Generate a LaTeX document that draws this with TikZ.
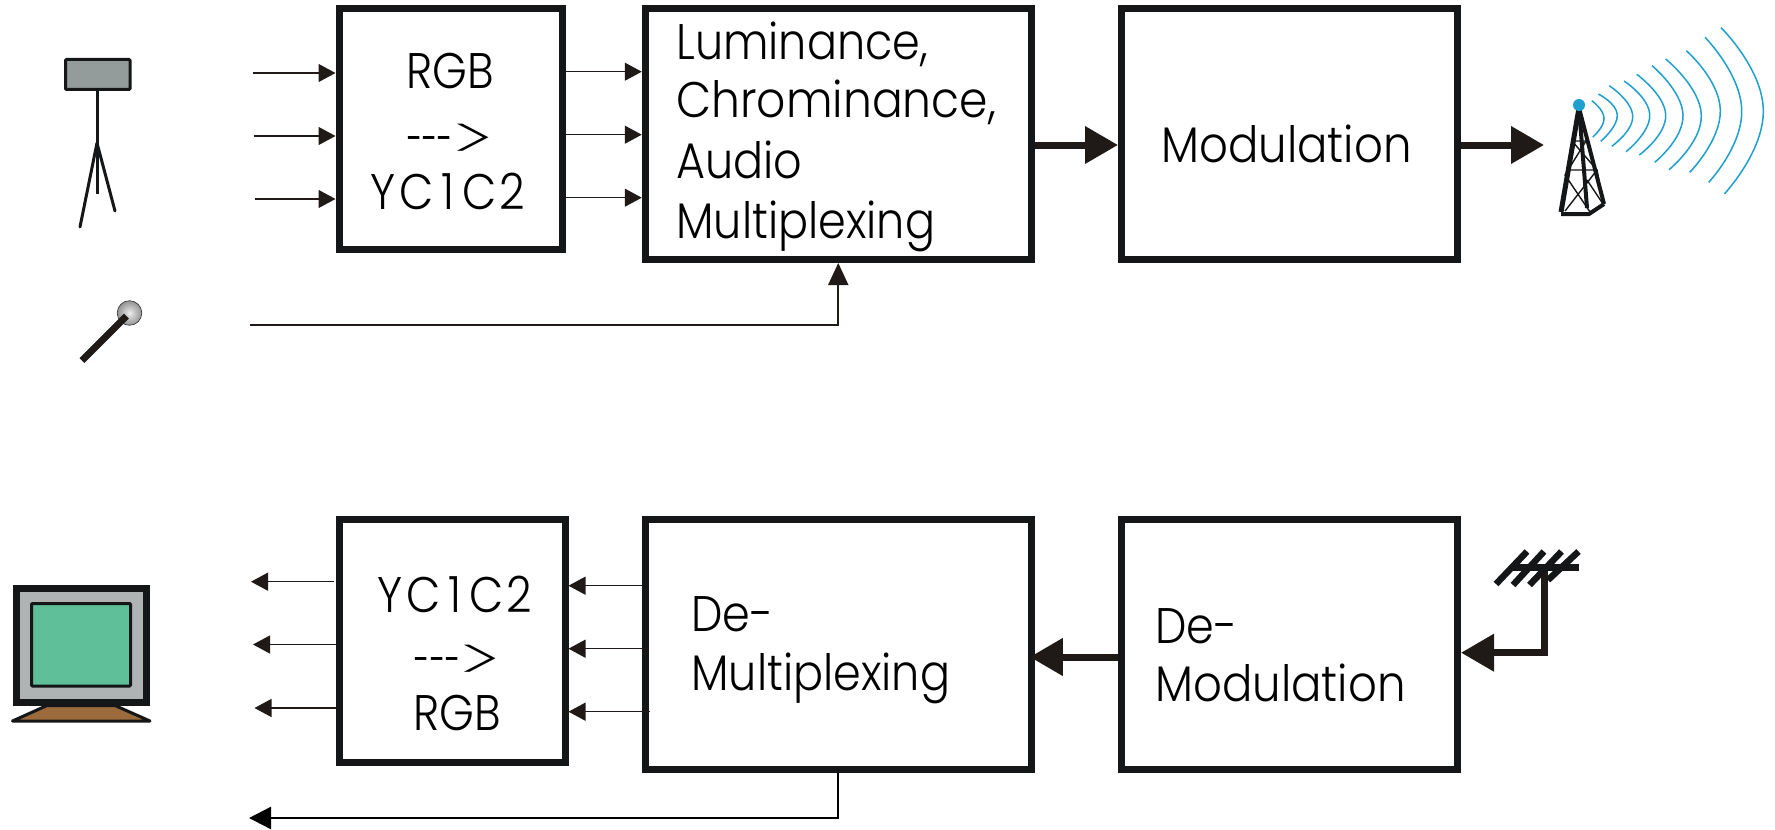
\documentclass[tikz,border=0pt]{standalone}
\usepackage{graphicx}
\usepackage{fontspec}
\setmainfont[UprightFont=* Light,BoldFont=* Light,FakeStretch=0.89]{Poppins}
\newfontfamily\gtfont[UprightFont=* ExtraLight,BoldFont=* ExtraLight]{Poppins}
\usetikzlibrary{arrows.meta,calc}
\definecolor{ink}{HTML}{151617}
\definecolor{tip}{HTML}{1F1A17}
\definecolor{wavec}{HTML}{1E9FCF}
\definecolor{camgray}{HTML}{939B9B}
\definecolor{tvgray}{HTML}{B0B3B3}
\definecolor{tvscreen}{HTML}{5FBF98}
\definecolor{tvstand}{HTML}{9C6B3C}
\newcommand{\convarrow}{\scalebox{0.66}[1]{-{}-{}-}\kern-1pt\raisebox{-1.5pt}{\scalebox{1.7}[1]{\fontsize{29pt}{30pt}\gtfont >}}}
\newcommand{\ycname}{Y\kern1.5pt C\kern4pt 1\kern4pt C\kern1.5pt 2}
\newcommand{\modname}{\scalebox{1.012}[1]{Modulation}}
\tikzset{
  x=0.5pt,y=-0.5pt,
  blockbox/.style={draw=ink,line width=3.5pt,fill=white,inner sep=0pt,minimum width=#1},
  txt/.style={anchor=base west,inner sep=0pt,font=\fontsize{25pt}{30pt}\selectfont,text=black},
  txtc/.style={anchor=base,inner sep=0pt,font=\fontsize{25pt}{30pt}\selectfont,text=black},
  thinarrow/.style={draw=tip,line width=0.65pt,-{Triangle[length=8.5pt,width=9pt,color=tip]}},
  micarrow/.style={draw=tip,line width=1pt,-{Triangle[length=11pt,width=10pt,color=tip]}},
  retarrow/.style={draw=black,line width=1.2pt,-{Triangle[length=11pt,width=11pt,color=black]}},
  thickarrow/.style={draw=tip,line width=3.5pt,-{Triangle[length=16.5pt,width=18pt,color=tip]}},
  wave/.style={draw=wavec,line width=0.75pt},
  iconline/.style={draw=ink,line width=1.5pt},
}
\newcommand{\wavearc}[3]{\draw[wave] plot[smooth,tension=0.9] coordinates {#1 #2 #3};}
\begin{document}
\begin{tikzpicture}
\useasboundingbox (0,0) rectangle (1775,829);
% blocks
\node[blockbox=111.5pt,minimum height=120.25pt] (rgb) at (450.5,129.25) {};
\node[blockbox=193pt,minimum height=125.25pt] (lum) at (838.25,134.25) {};
\node[blockbox=168pt,minimum height=125.25pt] (mod) at (1289.5,134.25) {};
\node[blockbox=113pt,minimum height=121.5pt] (yc) at (452,641) {};
\node[blockbox=193pt,minimum height=125pt] (dem) at (838.25,644.5) {};
\node[blockbox=168pt,minimum height=125pt] (dmo) at (1289.5,644.5) {};
% block texts
\node[txtc] (t1) at (450,89) {RGB};
\node[txt] (t2) at (407,156) {\convarrow};
\node[txtc] (t3) at (448,209) {\ycname};
\node[txt] (t4) at (676,60) {Luminance,};
\node[txt] (t5) at (676,118) {\scalebox{1.025}[1]{Chrominance,}};
\node[txt] (t6) at (676,178) {Audio};
\node[txt] (t7) at (676,238) {Multiplexing};
\node[txt] (t8) at (1161,162) {\modname};
\node[txtc] (t9) at (455,612) {\ycname};
\node[txt] (t10) at (414.5,677) {\convarrow};
\node[txtc] (t11) at (457,730) {RGB};
\node[txt] (t12) at (691,631) {De-};
\node[txt] (t13) at (691,690) {Multiplexing};
\node[txt] (t14) at (1155,643) {De-};
\node[txt] (t15) at (1155,701) {\modname};
% free ends
\coordinate (in1) at (253,73);
\coordinate (in2) at (253.5,136);
\coordinate (in3) at (255,199);
\coordinate (mic) at (250,325);
\coordinate (o1) at (600,71.7);
\coordinate (o2) at (600,134.7);
\coordinate (o3) at (600,197.7);
\coordinate (th) at (1080,145);
\coordinate (tw) at (1544,145);
\coordinate (b1) at (642,585.7);
\coordinate (b2) at (648,648.7);
\coordinate (b3) at (650,711.7);
\coordinate (d1) at (251,581.7);
\coordinate (d2) at (253,644.5);
\coordinate (d3) at (254.5,708);
\coordinate (ret) at (249,818);
\coordinate (dm) at (1100,657);
\coordinate (ant) at (1544,652.7);
\coordinate (anttop) at (1544,568);
% thin arrows
\draw[thinarrow] (in1) -- (in1 -| rgb.west);
\draw[thinarrow] (in2) -- (in2 -| rgb.west);
\draw[thinarrow] (in3) -- (in3 -| rgb.west);
\draw[thinarrow] (o1 -| rgb.east) -- (o1 -| lum.west);
\draw[thinarrow] (o2 -| rgb.east) -- (o2 -| lum.west);
\draw[thinarrow] (o3 -| rgb.east) -- (o3 -| lum.west);
\draw[micarrow] (mic) -| (lum.south);
\draw[thickarrow] (th -| lum.east) -- (th -| mod.west);
\draw[thickarrow] (tw -| mod.east) -- (tw);
\draw[thinarrow] (b1) -- (b1 -| yc.east);
\draw[thinarrow] (b2) -- (b2 -| yc.east);
\draw[thinarrow] (b3) -- (b3 -| yc.east);
\draw[thinarrow] (d1 -| yc.west) ++(-2,0) -- (d1);
\draw[thinarrow] (d2 -| yc.west) -- (d2);
\draw[thinarrow] (d3 -| yc.west) -- (d3);
\draw[retarrow] (dem.south) |- (ret);
\draw[thickarrow,shorten >=-2.5pt] (dm -| dmo.west) -- (dm -| dem.east);
\draw[thickarrow] (anttop) -- (ant) -- (ant -| dmo.east);
% antenna
\begin{scope}[line width=3.25pt,draw=ink]
\draw[ink] (1513,567.5) -- (1579,567.5);
\draw[ink] (1496,584) -- (1527,551.5);
\draw[ink] (1513,585) -- (1544,551.5);
\draw[ink] (1529.5,585) -- (1561.5,551.5);
\draw[ink] (1548,580) -- (1578.5,551.5);
\end{scope}
% camera
\draw[iconline,fill=camgray,rounded corners=0.5pt] (65.5,59.5) rectangle (130,89.5);
\draw[iconline] (97,90) -- (97,194);
\draw[iconline,line cap=round] (97,143) -- (80,227);
\draw[iconline,line cap=round] (97,143) -- (115,211);
% microphone
\shade[inner color=gray!15!white,outer color=gray!85!white,draw=gray!40!black,line width=0.3pt] (129.5,313) circle[radius=12.3];
\draw[draw=tip,line width=3.5pt] (82,360.5) -- (126.5,316);
% tower
\begin{scope}[draw=ink]
\draw[ink,line width=0.7pt] (1573,141) -- (1586,141) (1572,141) -- (1597,170) -- (1565,211) (1586,141) -- (1565,175) -- (1590,212) (1566,170) -- (1597,170) (1597,170) -- (1603,204) (1587,180) -- (1603,204) -- (1590,212);
\draw[ink,line width=2.5pt,line join=round] (1579,108) -- (1561,212);
\draw[ink,line width=2pt] (1579,108) -- (1587,208);
\draw[ink,line width=2pt] (1579,108) -- (1604,204);
\draw[ink,line width=2pt,line join=round] (1561,214) -- (1589,214) -- (1604,204);
\end{scope}
\fill[wavec] (1579,105) circle[radius=6];
% radio waves
\wavearc{(1591.7,100.7)}{(1604,118.3)}{(1592.7,137)}
\wavearc{(1598.3,94)}{(1617.3,115)}{(1600.7,141.3)}
\wavearc{(1609.3,85.7)}{(1632.7,116)}{(1611.7,146.3)}
\wavearc{(1624,81)}{(1649.7,115)}{(1626,151.7)}
\wavearc{(1636.7,74.3)}{(1665.7,115)}{(1639.3,155)}
\wavearc{(1652,65.7)}{(1683,115)}{(1654.7,162.3)}
\wavearc{(1665.7,59)}{(1701.3,115)}{(1669,169.7)}
\wavearc{(1686.3,50.7)}{(1720.3,110)}{(1689.7,172.3)}
\wavearc{(1705,37.3)}{(1741.7,110)}{(1708.7,182.3)}
\wavearc{(1721,27.7)}{(1763.3,110)}{(1724.3,194)}
% TV
\draw[draw=ink,line width=3.5pt,fill=tvgray] (16,588) rectangle (146.5,702);
\draw[draw=ink,line width=1.5pt,fill=tvscreen,rounded corners=0.5pt] (31.5,603.5) rectangle (130.5,686);
\draw[draw=ink,line width=1.5pt,fill=tvstand,line join=round] (47,705.5) -- (12.5,721) -- (150,721) -- (115,705.5) -- cycle;
\end{tikzpicture}
\end{document}
